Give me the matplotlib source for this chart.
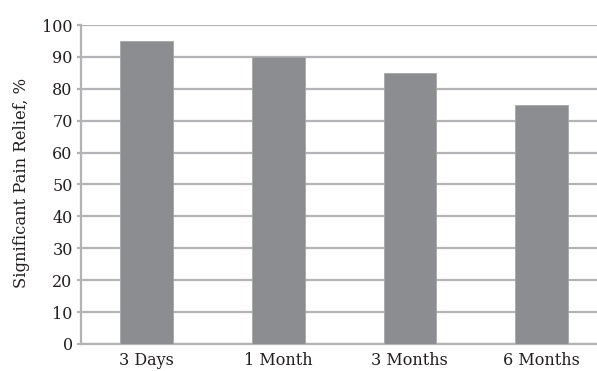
import matplotlib
matplotlib.use("Agg")
import matplotlib.pyplot as plt

periods = ["3 Days", "1 Month", "3 Months", "6 Months"]
relief = [95, 90, 85, 75]
yticks = [0, 10, 20, 30, 40, 50, 60, 70, 80, 90, 100]

plt.rcParams['font.family'] = ['DejaVu Serif']

fig = plt.figure(figsize=(5.97, 3.71), dpi=100)
# plot area runs past the right edge of the picture, as in the original
ax = fig.add_axes([0.1357, 0.0728, 0.8813, 0.8598])

grid_col = "#b3b3b6"
text_col = "#231f20"
ax.bar(range(len(periods)), relief, width=0.40, color="#8c8d91",
       edgecolor="#a6a7aa", linewidth=0.6, zorder=3)

ax.set_xlim(-0.5, len(periods) - 0.5)
ax.set_ylim(0, 100)
ax.set_yticks(yticks)
ax.set_xticks(range(len(periods)))
ax.set_xticklabels(periods)
ax.yaxis.grid(True, color=grid_col, linewidth=1.6, zorder=0)
ax.set_axisbelow(True)

for side in ["top", "right"]:
    ax.spines[side].set_visible(False)
for side in ["left", "bottom"]:
    ax.spines[side].set_color(grid_col)
    ax.spines[side].set_linewidth(1.6)

ax.tick_params(axis="y", length=3, width=1.6, color=grid_col, pad=3,
               labelsize=11.5, labelcolor=text_col)
ax.tick_params(axis="x", length=0, pad=6, labelsize=11.5, labelcolor=text_col)

ax.set_ylabel("Significant Pain Relief, %", fontsize=11.8, color=text_col)
ax.yaxis.set_label_coords(-0.097, 0.505)

fig.savefig("out.png", dpi=100)
